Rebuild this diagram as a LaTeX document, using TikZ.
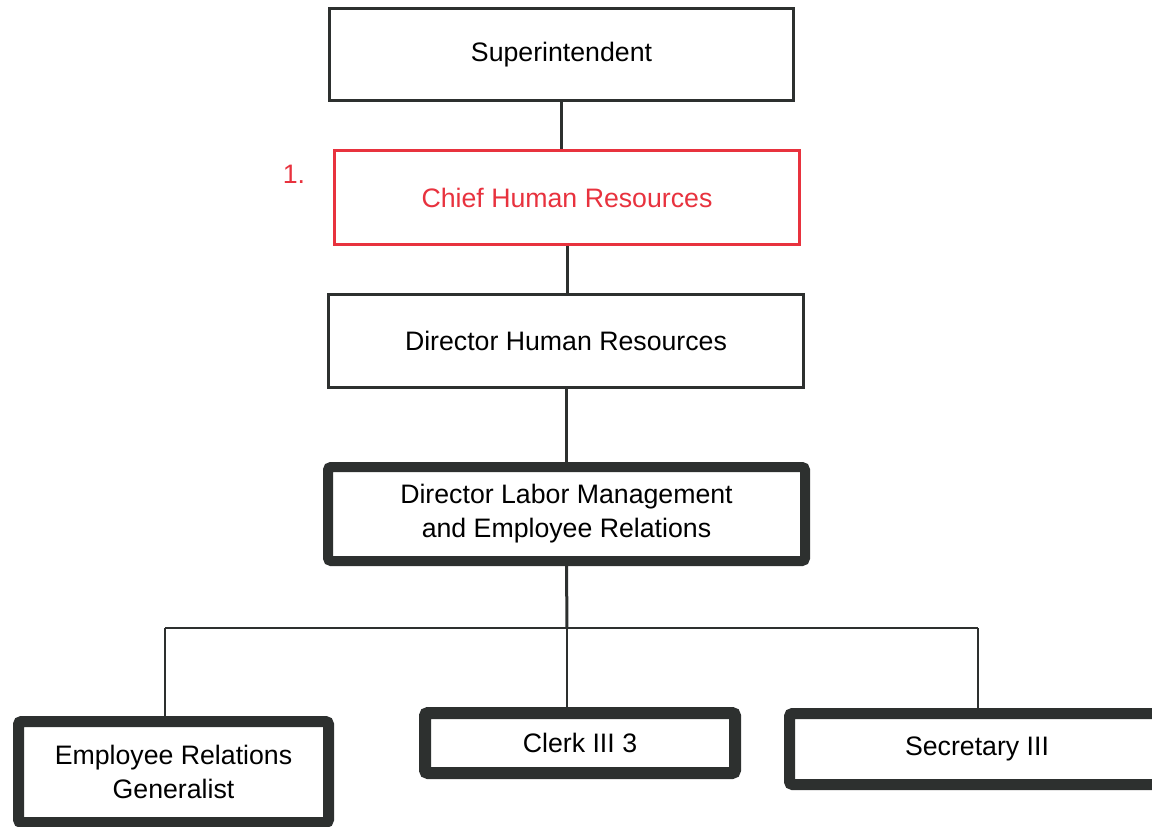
\documentclass[tikz,border=0pt]{standalone}
\usepackage{xcolor}
\usepackage{fontspec}
\setsansfont{Liberation Sans}
\usepackage{tikz}
\definecolor{chiefred}{RGB}{232,50,62}
\definecolor{boxline}{RGB}{45,48,47}

\begin{document}
\begin{tikzpicture}[x=1pt,y=-1pt,
  every node/.style = {draw=boxline, align=center, fill=white,
    inner sep=0pt, font=\sffamily\fontsize{26.7}{34}\selectfont},
  thin box/.style = {line width=3pt},
  red box/.style = {line width=3pt, draw=chiefred, text=chiefred},
  heavy box/.style = {line width=11pt, rounded corners=3pt},
  link/.style = {draw=boxline}]
  \useasboundingbox (0,0) rectangle (1152,827);

  % upper chain
  \node [thin box, minimum width=464, minimum height=92] (super) at (561.5,54.5) {Superintendent};
  \node [red box, minimum width=465, minimum height=94] (chief) at (567,197.5) {Chief Human Resources};
  \node [draw=none, fill=none, text=chiefred] (chiefnum) at (294,174) {1.};
  \node [thin box, minimum width=475, minimum height=93] (dirhr) at (566,341) {Director Human Resources};
  \node [heavy box, line width=10pt, minimum width=477, minimum height=94] (dirlab) at (566.5,514)
    {Director Labor Management\\and Employee Relations};

  % bottom row
  \node [heavy box, minimum width=310, minimum height=101] (erg) at (173.5,772)
    {Employee Relations\\Generalist};
  \node [heavy box, line width=12pt, minimum width=310, minimum height=60] (clerk) at (580,743) {Clerk III 3};
  \node [heavy box, minimum width=375, minimum height=71] (sec) at (977,749) {Secretary III};

  \coordinate (bus) at (567,628);
  \coordinate (busL) at (165,628);
  \coordinate (busR) at (978,628);

  \draw [link, line width=3pt] (super.south) -- (super.south |- chief.north);
  \draw [link, line width=3pt] (chief.south) -- (chief.south |- dirhr.north);
  \draw [link, line width=3pt] (dirhr.south) -- (dirhr.south |- dirlab.north);
  \draw [link, line width=3pt] (dirlab.south) -- (bus);
  \draw [link, line width=2pt] (busL) -- (busR);
  \draw [link, line width=1.5pt] (busL) -- (busL |- erg.north);
  \draw [link, line width=1.2pt] (bus) -- (bus |- clerk.north);
  \draw [link, line width=2.5pt] (busR) -- (busR |- sec.north);
\end{tikzpicture}
\end{document}
